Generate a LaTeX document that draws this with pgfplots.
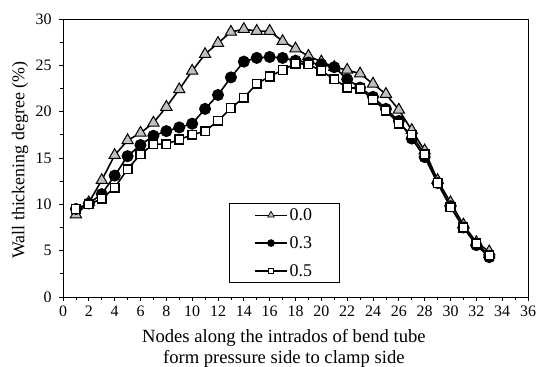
\documentclass[border=0pt]{standalone}
\usepackage{pgfplots}
\pgfplotsset{compat=1.18}
\usepackage{fontspec}
\setmainfont{Liberation Serif}
\begin{document}
\begin{tikzpicture}[x=1bp,y=1bp]
\useasboundingbox (-63bp,-70bp) rectangle (483bp,297bp);
\begin{axis}[
  scale only axis,
  width=465bp, height=278bp,
  xmin=0, xmax=36, ymin=0, ymax=30,
  xtick={0,2,...,36}, minor x tick num=1,
  ytick={0,5,...,30}, minor y tick num=1,
  tick pos=left,
  xtick align=outside,
  ytick align=outside,
  major tick length=4bp, minor tick length=3bp,
  tick style={black, line width=0.8pt},
  axis line style={line width=0.9pt},
  /pgf/number format/assume math mode=true,
  tick label style={font=\fontsize{16}{18}\selectfont},
  xticklabel shift=1.5bp,
  yticklabel shift=4bp,
  xlabel={Nodes along the intrados of bend tube\\form pressure side to clamp side},
  xlabel style={at={(rel axis cs:0.475,-0.185)}, anchor=center, align=center, font=\fontsize{18.7}{21}\selectfont},
  ylabel={Wall thickening degree (\%)},
  ylabel style={at={(rel axis cs:-0.0925,0.492)}, anchor=center, font=\fontsize{18}{20}\selectfont},
  legend cell align=left,
  legend style={at={(0.357,0.05)}, anchor=south west, draw=black, line width=0.8pt,
    font=\fontsize{18}{20}\selectfont, row sep=10.5bp, inner xsep=25bp, inner ysep=3bp},
  legend image code/.code={\draw[mark repeat=2,mark phase=2,#1] plot coordinates {(0bp,0bp) (16bp,0bp) (32bp,0bp)};},
]
\addplot[black, line width=1.6pt, mark=triangle*, mark size=6.5bp, mark options={fill=black!25, line width=1pt}, forget plot] coordinates {
(1,8.9)(2,10.2)(3,12.6)(4,15.3)(5,16.9)(6,17.7)(7,18.8)(8,20.5)(9,22.4)(10,24.4)
(11,26.2)(12,27.4)(13,28.6)(14,28.9)(15,28.7)(16,28.7)(17,27.6)(18,26.8)(19,26.0)(20,25.4)
(21,24.8)(22,24.5)(23,24.1)(24,23.0)(25,21.9)(26,20.2)(27,18.0)(28,15.8)(29,12.6)(30,10.2)
(31,7.8)(32,5.9)(33,4.9)};
\addplot[black, line width=1.6pt, mark=*, mark size=5.2bp, mark options={fill=black}, forget plot] coordinates {
(1,9.5)(2,10.1)(3,11.1)(4,13.1)(5,15.2)(6,16.4)(7,17.4)(8,17.9)(9,18.3)(10,18.7)
(11,20.3)(12,21.8)(13,23.7)(14,25.4)(15,25.8)(16,25.9)(17,25.8)(18,25.5)(19,25.3)(20,25.1)
(21,24.8)(22,23.5)(23,22.6)(24,21.6)(25,20.3)(26,19.0)(27,17.1)(28,15.1)(29,12.3)(30,9.8)
(31,7.5)(32,5.6)(33,4.3)};
\addplot[black, line width=1.6pt, mark=square*, mark size=4.3bp, mark options={fill=white, line width=1.5pt}, forget plot] coordinates {
(1,9.5)(2,10.0)(3,10.6)(4,11.8)(5,13.8)(6,15.4)(7,16.5)(8,16.5)(9,17.0)(10,17.5)
(11,17.9)(12,19.0)(13,20.4)(14,21.5)(15,23.0)(16,23.8)(17,24.5)(18,25.2)(19,25.1)(20,24.4)
(21,23.5)(22,22.6)(23,22.5)(24,21.3)(25,20.1)(26,18.7)(27,17.5)(28,15.4)(29,12.3)(30,9.7)
(31,7.5)(32,5.8)(33,4.5)};
\addlegendimage{black, line width=1.2pt, mark=triangle*, mark size=3.8bp, mark options={fill=black!25, line width=0.7pt}}
\addlegendentry{0.0}
\addlegendimage{black, line width=1.2pt, mark=*, mark size=3.2bp, mark options={fill=black}}
\addlegendentry{0.3}
\addlegendimage{black, line width=1.2pt, mark=square*, mark size=2.8bp, mark options={fill=white, line width=0.9pt}}
\addlegendentry{0.5}
\end{axis}
\end{tikzpicture}
\end{document}
